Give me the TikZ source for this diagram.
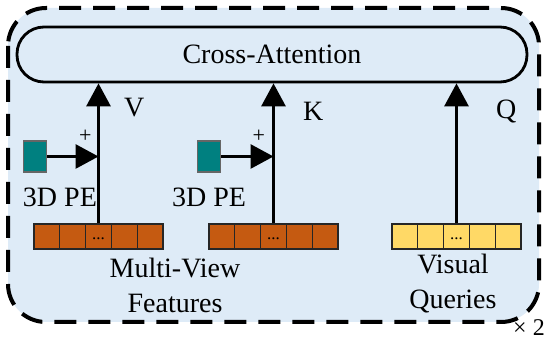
\documentclass[tikz,border=0pt]{standalone}
\usepackage{fontspec}
\setmainfont{Liberation Serif}
\usetikzlibrary{positioning,arrows.meta}
\definecolor{panelblue}{RGB}{222,235,247}
\definecolor{peteal}{RGB}{0,128,128}
\definecolor{featorange}{RGB}{197,90,17}
\definecolor{querygold}{RGB}{255,217,102}
\tikzset{
  panel/.style={draw=black,line width=2pt,dash pattern=on 11pt off 6pt,rounded corners=19pt,fill=panelblue},
  attnbox/.style={rectangle,draw=black,line width=1.4pt,rounded corners=13.5pt,minimum width=255pt,minimum height=27.5pt,inner sep=0pt,font=\fontsize{14}{17}\selectfont},
  featcell/.style={rectangle,draw=black!85,line width=0.6pt,fill=featorange,minimum width=12.9pt,minimum height=12.5pt,inner sep=0pt},
  querycell/.style={featcell,fill=querygold},
  pebox/.style={rectangle,draw=black!60,line width=0.6pt,fill=peteal,minimum width=11.8pt,minimum height=15.5pt,inner sep=0pt},
  lbl/.style={inner sep=0pt,align=center,font=\fontsize{14}{17.5}\selectfont},
  plus/.style={inner sep=0pt,font=\fontsize{11}{11}\selectfont},
  arr/.style={-{Triangle[width=12pt,length=11.5pt]},line width=1.5pt}
}
\newcommand{\celldots}{\raisebox{-3pt}{\fontsize{8.5}{8.5}\selectfont...}}

\begin{document}
\begin{tikzpicture}[x=0.5pt,y=-0.5pt]
  \useasboundingbox (0,0) rectangle (546,341);
  \draw[panel] (8,8) rectangle (539,322);
  \node[attnbox] (xattn) at (272,54.5) {Cross-Attention};
  % token bars
  \foreach \n/\x/\s in {fa/34/featcell,fb/209/featcell,vq/392/querycell}
    \foreach \i in {0,...,4}
      \node[\s] (\n\i) at ({\x+12.9+25.8*\i},236.5) {\ifnum\i=2 \celldots\fi};
  % positional encodings
  \node[pebox] (pe1) at (35,156.5) {};
  \node[pebox] (pe2) at (209,156.5) {};
  \node[lbl,below right=7.5pt and 0pt of pe1.south west] (pe1txt) {3D PE};
  \node[lbl,below=7.5pt of pe2] (pe2txt) {3D PE};
  \node[lbl] (mvtxt) at (175,285) {Multi-View\\Features};
  \node[lbl] (vqtxt) at (453,284) {Visual\\Queries};
  % value, key, query
  \draw[arr] (fa2.north) -- (fa2.north |- xattn.south) node[lbl,pos=0.83,right=12pt] {V};
  \draw[arr] (fb2.north) -- (fb2.north |- xattn.south) node[lbl,pos=0.80,right=14pt] {K};
  \draw[arr] (vq2.north) -- (vq2.north |- xattn.south) node[lbl,pos=0.80,right=19pt] {Q};
  \draw[arr] (pe1.east) -- (pe1.east -| fa2.north) node[plus,pos=0.74,above=6pt] {+};
  \draw[arr] (pe2.east) -- (pe2.east -| fb2.north) node[plus,pos=0.72,above=6pt] {+};
  \node[inner sep=0pt,font=\fontsize{12}{12}\selectfont] (rep) at (529,328) {× 2};
\end{tikzpicture}
\end{document}
